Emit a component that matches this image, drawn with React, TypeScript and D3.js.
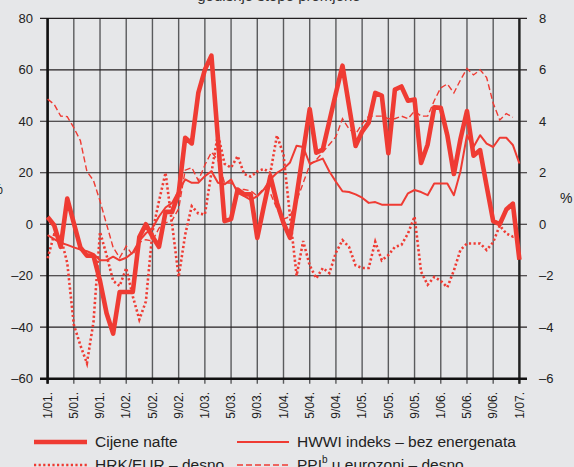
import React from "react";
import * as d3 from "d3";

// monthly values, 1/01 .. 1/07
const oil = [2.8, -0.4, -8.8, 10, 0.4, -9, -12.2, -12.2, -22, -34.6, -42.5, -26.3, -26.3, -26.3, -5, 0, -4.8, -8.8, 4.8, 4.8, 12, 33.6, 31.4, 51, 60, 65.5, 33, 1.2, 2, 13.5, 11.6, 11.6, -5.3, 7, 18.7, 8.3, 0.5, -5.3, 11, 28, 44.7, 27.8, 29, 40, 51, 61.6, 46, 30.4, 36, 39.5, 51, 50, 27.6, 52.3, 53.5, 48, 48.5, 23.8, 31, 45.4, 45.2, 34.6, 19.5, 33, 44, 26.6, 28.8, 14.8, 1.2, 0, 5.7, 8, -13.8];
const hwwi = [-4.2, -5.8, -7.2, -8, -9, -9.8, -10.5, -11.5, -14, -14, -12.6, -14, -13, -11, -6.5, -3.5, -1.5, 3, 6.5, 8.3, 13, 17.4, 16.1, 16.1, 18.7, 20.6, 16.1, 15.5, 17.4, 12.2, 10.9, 9.5, 10.9, 13.5, 17.5, 20, 21.5, 24, 30.5, 30, 23.5, 24.5, 25.5, 20.5, 16.5, 12.8, 12.5, 11.6, 10.3, 8.3, 8.6, 7.6, 7.6, 7.6, 7.6, 12, 13.3, 12.5, 11.3, 15.8, 15.8, 15.8, 11.3, 20.5, 34.6, 30, 34.6, 31.3, 30, 33.6, 33.6, 30.8, 23.6];
// right axis
const hrkEur = [-1.32, -0.4, -0.5, -1.5, -3.9, -4.7, -5.4, -3.8, -0.3, -1.2, -2.2, -2.4, -1.7, -2.8, -3.7, -3.0, -0.3, 0.9, 2.0, 0.0, -2.05, -0.4, 0.7, 0.42, 0.38, 2.0, 3.5, 2.35, 2.2, 2.65, 1.95, 1.85, 2.05, 2.15, 2.0, 3.45, 2.7, 0.3, -2.0, -0.65, -1.6, -2.1, -1.7, -1.9, -1.1, -0.62, -0.88, -1.6, -1.7, -1.7, -0.68, -1.4, -1.2, -0.88, -0.8, -0.36, 0.3, -1.85, -2.35, -2.05, -2.2, -2.45, -1.8, -1.0, -0.75, -0.75, -0.75, -1.0, -0.7, -0.05, -0.36, -0.48, -0.35];
const ppi = [4.86, 4.66, 4.2, 4.18, 3.75, 3.25, 2.05, 1.7, 0.9, 0.0, -0.9, -1.3, -0.85, -1.2, -0.7, -0.6, -0.65, -0.15, 0.05, 0.15, 0.6, 2.1, 2.2, 1.7, 2.3, 2.8, 2.5, 1.6, 1.6, 1.35, 1.35, 1.3, 1.1, 1.4, 1.2, 0.6, 0.2, 0.3, 0.9, 1.6, 2.3, 2.5, 2.8, 3.1, 3.4, 4.1, 3.7, 3.5, 3.9, 4.2, 4.2, 4.2, 4.1, 4.1, 4.2, 4.1, 4.4, 4.2, 4.2, 4.8, 5.3, 5.45, 5.1, 5.6, 6.05, 5.8, 6.0, 5.7, 4.7, 4.05, 4.3, 4.15];

const xTickLabels = ["1/01.", "5/01.", "9/01.", "1/02.", "5/02.", "9/02.", "1/03.", "5/03.", "9/03.", "1/04.", "5/04.", "9/04.", "1/05.", "5/05.", "9/05.", "1/06.", "5/06.", "9/06.", "1/07."];
const leftTicks = [80, 60, 40, 20, 0, -20, -40, -60];
const rightTicks = [8, 6, 4, 2, 0, -2, -4, -6];

const RED = "#ef3b33";
const FONT = "'Liberation Sans', Arial, Helvetica, sans-serif";

const fmt = (d: number) => (d < 0 ? "\u2013" + Math.abs(d) : String(d));

export default function App() {
  const left = 47.6, right = 519.4, top = 18.3, bottom = 378.7;

  const x = d3.scaleLinear().domain([0, 72]).range([left, right]);
  const yL = d3.scaleLinear().domain([-60, 80]).range([bottom, top]);
  const yR = d3.scaleLinear().domain([-6, 8]).range([bottom, top]);

  const lineL = d3.line<number>().x((d, i) => x(i)).y((d) => yL(d));
  const lineR = d3.line<number>().x((d, i) => x(i)).y((d) => yR(d));

  return (
    <svg width={574} height={467} style={{ position: "absolute", left: 0, top: 0 }} fontFamily={FONT}>
      <rect x={0} y={0} width={574} height={467} fill="#e6e7e9" />
      <text x={279} y={1} fontSize={15} textAnchor="middle" fill="#333">godišnje stope promjene</text>

      {/* vertical grid */}
      {xTickLabels.map((t, i) => (
        <line key={t} x1={x(i * 4)} x2={x(i * 4)} y1={top} y2={bottom + 5} stroke="#5a5b5d" strokeWidth={1.4} />
      ))}
      {/* horizontal grid */}
      {leftTicks.map((v) => (
        <line key={v} x1={40} x2={527} y1={yL(v)} y2={yL(v)} stroke="#231f20" strokeWidth={1.2} />
      ))}
      <line x1={left} x2={left} y1={top} y2={bottom + 5} stroke="#111" strokeWidth={2.6} />
      <line x1={right} x2={right} y1={top} y2={bottom + 5} stroke="#222" strokeWidth={2.4} />
      <line x1={40} x2={527} y1={bottom} y2={bottom} stroke="#111" strokeWidth={2.6} />

      {leftTicks.map((v) => (
        <text key={v} x={33} y={yL(v)} dy="0.35em" fontSize={13} textAnchor="end" fill="#222">{fmt(v)}</text>
      ))}
      {rightTicks.map((v) => (
        <text key={v} x={539} y={yR(v)} dy="0.35em" fontSize={13} fill="#222">{fmt(v)}</text>
      ))}
      <text x={560} y={203} fontSize={14} fill="#222">%</text>
      <text x={3} y={194} fontSize={14} textAnchor="end" fill="#222">%</text>

      {xTickLabels.map((t, i) => (
        <text key={t} transform={`translate(${x(i * 4)},392) rotate(-90)`} dy="0.35em" fontSize={12} textAnchor="end" fill="#222">{t}</text>
      ))}

      <path d={lineR(ppi) || ""} fill="none" stroke={RED} strokeWidth={1.4} strokeDasharray="6 3" />
      <path d={lineR(hrkEur) || ""} fill="none" stroke={RED} strokeWidth={2.6} strokeDasharray="2.2 2.4" />
      <path d={lineL(hwwi) || ""} fill="none" stroke={RED} strokeWidth={2} strokeLinejoin="round" />
      <path d={lineL(oil) || ""} fill="none" stroke={RED} strokeWidth={4.6} strokeLinejoin="round" />

      {/* legend */}
      <line x1={34} x2={87} y1={442} y2={442} stroke={RED} strokeWidth={4.6} />
      <text x={95} y={447} fontSize={15.5} fill="#222">Cijene nafte</text>
      <line x1={237} x2={289} y1={442} y2={442} stroke={RED} strokeWidth={2} />
      <text x={297} y={447} fontSize={15.5} fill="#222">HWWI indeks – bez energenata</text>
      <line x1={34} x2={87} y1={465} y2={465} stroke={RED} strokeWidth={2.6} strokeDasharray="2.2 2.4" />
      <text x={95} y={470} fontSize={15.5} fill="#222">HRK/EUR – desno</text>
      <line x1={237} x2={289} y1={465} y2={465} stroke={RED} strokeWidth={1.4} strokeDasharray="6 3" />
      <text x={297} y={470} fontSize={15.5} fill="#222">
        PPI<tspan dy={-7} fontSize={10}>b</tspan><tspan dy={7}> u eurozoni – desno</tspan>
      </text>
    </svg>
  );
}
